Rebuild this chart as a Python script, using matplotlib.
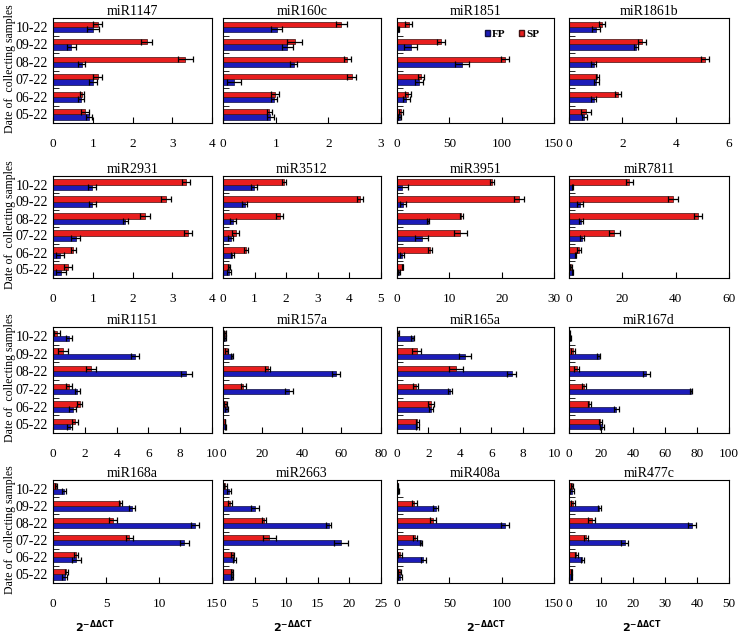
import matplotlib.pyplot as plt
import numpy as np
from matplotlib.patches import Patch

plt.rcParams['font.family'] = ['Liberation Serif', 'DejaVu Serif']

# sampling dates, bottom to top
dates = ['05-22', '06-22', '07-22', '08-22', '09-22', '10-22']

names = ['miR1147', 'miR160c', 'miR1851', 'miR1861b',
         'miR2931', 'miR3512', 'miR3951', 'miR7811',
         'miR1151', 'miR157a', 'miR165a', 'miR167d',
         'miR168a', 'miR2663', 'miR408a', 'miR477c']

xmax = [4, 3, 150, 6,
        4, 5, 30, 60,
        10, 80, 10, 100,
        15, 25, 150, 50]
xstep = [1, 1, 50, 2,
         1, 1, 10, 20,
         2, 20, 2, 20,
         5, 5, 50, 10]

# FP values (05-22 ... 10-22) and errors
fp = [[0.90, 0.70, 1.00, 0.72, 0.46, 1.00],
      [0.90, 0.97, 0.21, 1.34, 1.22, 1.02],
      [2.5, 9, 21, 62, 13, 1.5],
      [0.57, 0.92, 1.02, 0.92, 2.52, 1.03],
      [0.20, 0.17, 0.57, 1.82, 0.99, 0.99],
      [0.19, 0.30, 0.24, 0.32, 0.69, 0.99],
      [0.3, 0.95, 4.7, 6.0, 1.1, 0.95],
      [1.4, 2.5, 4.8, 4.5, 4.1, 1.3],
      [1.06, 1.23, 1.54, 8.39, 5.14, 1.00],
      [1.2, 1.9, 33.3, 57.4, 4.8, 1.2],
      [1.28, 2.16, 3.38, 7.30, 4.33, 1.00],
      [20.6, 29.5, 76.2, 48.4, 18.5, 0.8],
      [1.10, 2.20, 12.4, 13.4, 7.45, 1.04],
      [1.43, 1.80, 18.6, 16.7, 5.07, 0.90],
      [2.8, 25.2, 22.7, 103, 37, 1.3],
      [0.84, 4.2, 17.4, 38.4, 9.5, 0.95]]
fp_err = [[0.08, 0.08, 0.10, 0.08, 0.11, 0.15],
          [0.06, 0.05, 0.13, 0.07, 0.10, 0.10],
          [1.5, 3, 4, 7, 6, 0.5],
          [0.10, 0.08, 0.10, 0.10, 0.07, 0.15],
          [0.13, 0.10, 0.12, 0.06, 0.08, 0.10],
          [0.07, 0.06, 0.08, 0.10, 0.08, 0.10],
          [0.2, 0.4, 1.2, 0.2, 0.6, 1.2],
          [0.2, 0.3, 0.8, 0.6, 1.2, 0.3],
          [0.15, 0.20, 0.15, 0.35, 0.25, 0.20],
          [0.2, 0.7, 2.0, 2.0, 0.5, 0.5],
          [0.10, 0.15, 0.10, 0.30, 0.40, 0.10],
          [1.0, 1.5, 0.8, 2.0, 1.0, 0.3],
          [0.25, 0.40, 0.40, 0.40, 0.30, 0.15],
          [0.15, 0.20, 1.1, 0.40, 0.60, 0.30],
          [1.5, 2.5, 1.0, 4.0, 2.5, 0.5],
          [0.2, 0.5, 1.0, 1.3, 0.4, 0.6]]

# SP values (05-22 ... 10-22) and errors
sp = [[0.80, 0.74, 1.12, 3.33, 2.36, 1.12],
      [0.88, 0.99, 2.44, 2.36, 1.36, 2.25],
      [4, 10.5, 23, 103, 42, 11],
      [0.64, 1.83, 1.06, 5.10, 2.72, 1.24],
      [0.38, 0.51, 3.39, 2.31, 2.84, 3.35],
      [0.18, 0.72, 0.40, 1.79, 4.33, 1.93],
      [1.1, 6.3, 12.1, 12.3, 23.3, 18.2],
      [0.8, 3.8, 17, 48.4, 39, 22.6],
      [1.37, 1.69, 0.99, 2.39, 0.63, 0.25],
      [1.0, 1.4, 10.3, 22.6, 1.9, 0.8],
      [1.28, 2.16, 1.18, 3.74, 1.26, 0.06],
      [19.6, 12.6, 9.5, 4.8, 2.5, 0.4],
      [1.26, 2.20, 7.20, 5.66, 6.35, 0.30],
      [1.43, 1.53, 7.33, 6.50, 1.05, 0.37],
      [2.5, 2.8, 17.4, 34.4, 16.4, 0.9],
      [0.84, 2.3, 5.26, 7.05, 1.26, 0.84]]
sp_err = [[0.10, 0.05, 0.12, 0.19, 0.14, 0.12],
          [0.05, 0.08, 0.09, 0.07, 0.14, 0.11],
          [2, 3, 3, 4, 4, 3],
          [0.18, 0.12, 0.06, 0.15, 0.15, 0.12],
          [0.10, 0.06, 0.10, 0.13, 0.12, 0.10],
          [0.03, 0.07, 0.10, 0.10, 0.10, 0.06],
          [0.1, 0.3, 1.3, 0.3, 1.0, 0.4],
          [0.3, 0.8, 2.0, 1.5, 2.0, 1.3],
          [0.20, 0.15, 0.20, 0.30, 0.30, 0.20],
          [0.2, 0.7, 1.3, 1.2, 0.8, 0.5],
          [0.10, 0.20, 0.15, 0.45, 0.30, 0.05],
          [1.0, 1.0, 1.2, 1.5, 1.5, 0.3],
          [0.15, 0.20, 0.35, 0.40, 0.15, 0.10],
          [0.20, 0.20, 1.0, 0.30, 0.30, 0.20],
          [1.5, 1.5, 2.0, 2.5, 2.5, 0.5],
          [0.2, 0.4, 0.6, 1.0, 0.6, 0.3]]

blue = '#1c1cb8'
red = '#e81e1e'

fig = plt.figure(figsize=(7.4, 6.35), dpi=100)

col_left = [53, 223, 397, 569]
col_w = [159, 158, 157, 160]
row_top = [18, 176, 327, 480]
row_h = [105, 102, 106, 103]
W, H = 740.0, 635.0

y = np.arange(len(dates))
bh = 0.3
err_kw = dict(ecolor='black', elinewidth=0.9, capsize=2, capthick=0.9)

for i, name in enumerate(names):
    r, c = divmod(i, 4)
    ax = fig.add_axes([col_left[c] / W, 1 - (row_top[r] + row_h[r]) / H,
                       col_w[c] / W, row_h[r] / H])
    ax.barh(y - bh / 2, fp[i], height=bh, color=blue, edgecolor='#101040',
            linewidth=0.5, xerr=fp_err[i], error_kw=err_kw, label='FP')
    ax.barh(y + bh / 2, sp[i], height=bh, color=red, edgecolor='#401010',
            linewidth=0.5, xerr=sp_err[i], error_kw=err_kw, label='SP')
    ax.set_xlim(0, xmax[i])
    ax.set_ylim(-0.5, len(dates) - 0.5)
    ax.set_xticks(np.arange(0, xmax[i] + xstep[i] / 2, xstep[i]))
    ax.tick_params(axis='x', direction='in', length=4, pad=11, labelsize=9.5)
    ax.set_yticks(y)
    ax.set_yticks(np.arange(-0.5, len(dates), 1), minor=True)
    ax.tick_params(axis='y', which='major', length=0, labelsize=10)
    ax.tick_params(axis='y', which='minor', direction='in', length=4)
    if c == 0:
        ax.set_yticklabels(dates)
    else:
        ax.set_yticklabels([])
    ax.set_title(name, fontsize=10, pad=2)
    for s in ax.spines.values():
        s.set_linewidth(0.8)
    if name == 'miR1851':
        handles = [Patch(facecolor=blue, edgecolor='#101040', label='FP'),
                   Patch(facecolor=red, edgecolor='#401010', label='SP')]
        ax.legend(handles=handles, loc='upper right', bbox_to_anchor=(0.97, 0.98),
                  ncol=2, frameon=False, handlelength=0.5, handleheight=0.5,
                  handletextpad=0.15, columnspacing=1.2,
                  prop={'weight': 'bold', 'size': 8})
    if r == 3:
        offs = [-38, -9, 10, -7]
        cx = (col_left[c] + col_w[c] / 2 + offs[c]) / W
        fig.text(cx, 1 - 627 / H, r'$\mathbf{2^{-\Delta\Delta CT}}$',
                 ha='center', va='center', fontsize=8)

for r in range(4):
    cy = 1 - (row_top[r] + row_h[r] / 2 - 2) / H
    fig.text(0.014, cy, 'Date of  collecting samples', rotation=90,
             ha='center', va='center', fontsize=8.5)

fig.savefig('out.png', dpi=100)
